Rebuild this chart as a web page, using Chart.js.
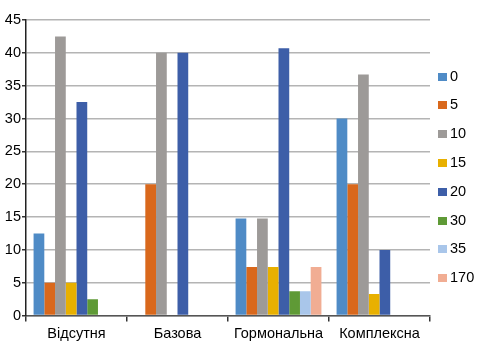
<!DOCTYPE html>
<html>
<head>
<meta charset="utf-8">
<script src="https://cdn.jsdelivr.net/npm/chart.js@4"></script>
<style>
  html, body { margin: 0; padding: 0; background: #fff; }
  #wrap { position: relative; width: 478px; height: 354px; }
  #legend { position: absolute; left: 438px; top: 61.6px; margin: 0; padding: 0; list-style: none;
            font-family: 'Liberation Sans', Arial, sans-serif; font-size: 14.5px; color: #000; }
  #legend li { height: 28.8px; line-height: 28.8px; white-space: nowrap; }
  #legend span { display: inline-block; width: 9px; height: 8px; margin-right: 3px; vertical-align: 0px; }
</style>
</head>
<body>
<div id="wrap"><canvas id="barChart"></canvas><ul id="legend"></ul></div>
<script>
const categories = ['Відсутня', 'Базова', 'Гормональна', 'Комплексна'];
const seriesNames = ['0', '5', '10', '15', '20', '30', '35', '170'];
const s0 = [12.5, 0, 14.8, 30];
const s5 = [5, 20, 7.4, 20];
const s10 = [42.5, 40, 14.8, 36.7];
const s15 = [5, 0, 7.4, 3.3];
const s20 = [32.5, 40, 40.7, 10];
const s30 = [2.5, 0, 3.7, 0];
const s35 = [0, 0, 3.7, 0];
const s170 = [0, 0, 7.4, 0];
const yTicks = [0, 5, 10, 15, 20, 25, 30, 35, 40, 45];

const seriesValues = [s0, s5, s10, s15, s20, s30, s35, s170];
const colors = ['#4f8bc6', '#d9681c', '#9d9a98', '#e8b000', '#3d5ea8', '#5f9a36', '#a9c6ea', '#f1ad93'];

const font = { family: "'Liberation Sans', Arial, sans-serif", size: 14.5 };

const barChartData = {
    labels: categories,
    datasets: seriesNames.map((name, i) => ({
        label: name,
        backgroundColor: colors[i],
        borderWidth: 0,
        data: seriesValues[i]
    }))
};

const chart = new Chart(document.getElementById('barChart').getContext('2d'), {
    type: 'bar',
    data: barChartData,
    options: {
        responsive: true,
        maintainAspectRatio: false,
        animation: false,
        datasets: { bar: { categoryPercentage: 0.85, barPercentage: 1 } },
        layout: { padding: { top: 20, left: 0, right: 48, bottom: 7 } },
        plugins: {
            legend: { display: false },
            tooltip: { enabled: false }
        },
        scales: {
            x: {
                grid: {
                    offset: true,
                    drawOnChartArea: false,
                    tickLength: 6,
                    tickColor: '#333',
                    lineWidth: 1.5
                },
                border: { color: '#555', width: 1.5 },
                ticks: { color: '#000', font: font, padding: 4 }
            },
            y: {
                min: 0,
                max: 45,
                afterBuildTicks: axis => { axis.ticks = yTicks.map(v => ({ value: v })); },
                afterFit: axis => { axis.width = 26; },
                grid: {
                    color: '#b4b4b4',
                    lineWidth: 1.5,
                    tickLength: 4,
                    tickColor: '#333'
                },
                border: { color: '#222', width: 1.5 },
                ticks: { color: '#000', font: font, padding: 1 }
            }
        }
    }
});

// html legend built from the chart's datasets
document.getElementById('legend').innerHTML = chart.data.datasets
    .map(ds => '<li><span style="background:' + ds.backgroundColor + '"></span>' + ds.label + '</li>')
    .join('');
</script>
</body>
</html>
